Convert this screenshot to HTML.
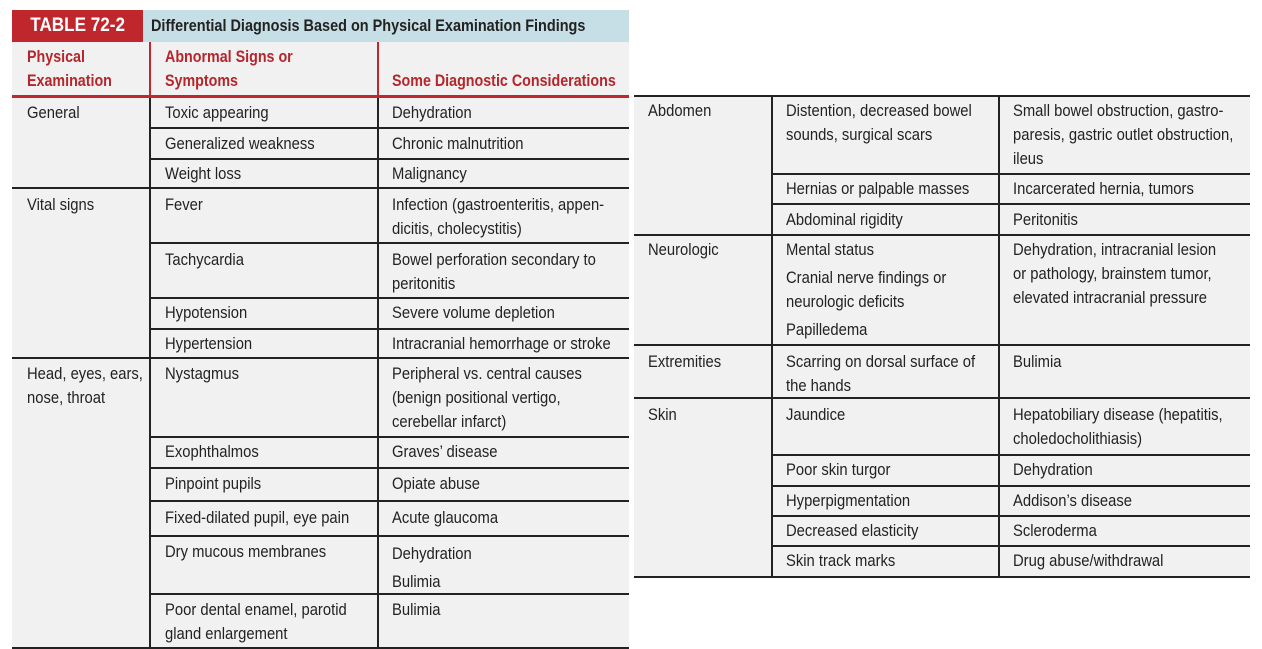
<!DOCTYPE html>
<html><head><meta charset="utf-8">
<style>
body{margin:0;width:1262px;height:649px;background:#fff;position:relative;overflow:hidden;font-family:"Liberation Sans",sans-serif;}
.bg{position:absolute;background:#f1f1f1;}
.h{position:absolute;height:2px;background:#222;}
.v{position:absolute;width:2px;background:#222;}
.t{position:absolute;font-size:17px;line-height:24px;color:#222;white-space:nowrap;transform:scaleX(0.87);transform-origin:0 0;}
.r{color:#b5262b;font-weight:bold;transform:scaleX(0.84);}
</style></head><body>
<div class="bg" style="left:12px;top:42px;width:617px;height:606px"></div>
<div class="bg" style="left:634px;top:96px;width:616px;height:481px"></div>
<div style="position:absolute;left:12px;top:10px;width:131px;height:32px;background:#c0272d;color:#fff;font-weight:bold;font-size:19px;line-height:32px;text-align:center;white-space:nowrap"><span style="display:inline-block;transform:scaleX(0.9)">TABLE 72-2</span></div>
<div style="position:absolute;left:143px;top:10px;width:486px;height:32px;background:#c6dfe6;color:#222;font-weight:bold;font-size:17px;line-height:32px;white-space:nowrap;overflow:hidden"><span style="position:absolute;left:8px;top:0;transform:scaleX(0.85);transform-origin:0 0">Differential Diagnosis Based on Physical Examination Findings</span></div>
<div class="t r" style="left:27px;top:45px">Physical<br>Examination</div>
<div class="t r" style="left:165px;top:45px">Abnormal Signs or<br>Symptoms</div>
<div class="t r" style="left:392px;top:69px">Some Diagnostic Considerations</div>
<div style="position:absolute;left:12px;top:95px;width:617px;height:3px;background:#c0272d"></div>
<div style="position:absolute;left:149px;top:42px;width:2px;height:54px;background:#c0272d"></div>
<div style="position:absolute;left:377px;top:42px;width:2px;height:54px;background:#c0272d"></div>
<div class="v" style="left:149px;top:98px;height:550px"></div>
<div class="v" style="left:377px;top:98px;height:550px"></div>
<div class="h" style="left:150px;top:127px;width:479px"></div>
<div class="h" style="left:150px;top:158px;width:479px"></div>
<div class="h" style="left:12px;top:187px;width:617px"></div>
<div class="h" style="left:150px;top:242px;width:479px"></div>
<div class="h" style="left:150px;top:297px;width:479px"></div>
<div class="h" style="left:150px;top:328px;width:479px"></div>
<div class="h" style="left:12px;top:357px;width:617px"></div>
<div class="h" style="left:150px;top:436px;width:479px"></div>
<div class="h" style="left:150px;top:467px;width:479px"></div>
<div class="h" style="left:150px;top:500px;width:479px"></div>
<div class="h" style="left:150px;top:535px;width:479px"></div>
<div class="h" style="left:150px;top:593px;width:479px"></div>
<div class="h" style="left:12px;top:647px;width:617px"></div>
<div class="t" style="left:27px;top:101px">General</div>
<div class="t" style="left:165px;top:101px">Toxic appearing</div>
<div class="t" style="left:392px;top:101px">Dehydration</div>
<div class="t" style="left:165px;top:132px">Generalized weakness</div>
<div class="t" style="left:392px;top:132px">Chronic malnutrition</div>
<div class="t" style="left:165px;top:162px">Weight loss</div>
<div class="t" style="left:392px;top:162px">Malignancy</div>
<div class="t" style="left:27px;top:193px">Vital signs</div>
<div class="t" style="left:165px;top:193px">Fever</div>
<div class="t" style="left:392px;top:193px">Infection (gastroenteritis, appen-<br>dicitis, cholecystitis)</div>
<div class="t" style="left:165px;top:248px">Tachycardia</div>
<div class="t" style="left:392px;top:248px">Bowel perforation secondary to<br>peritonitis</div>
<div class="t" style="left:165px;top:301px">Hypotension</div>
<div class="t" style="left:392px;top:301px">Severe volume depletion</div>
<div class="t" style="left:165px;top:332px">Hypertension</div>
<div class="t" style="left:392px;top:332px">Intracranial hemorrhage or stroke</div>
<div class="t" style="left:27px;top:362px">Head, eyes, ears,<br>nose, throat</div>
<div class="t" style="left:165px;top:362px">Nystagmus</div>
<div class="t" style="left:392px;top:362px">Peripheral vs. central causes<br>(benign positional vertigo,<br>cerebellar infarct)</div>
<div class="t" style="left:165px;top:440px">Exophthalmos</div>
<div class="t" style="left:392px;top:440px">Graves’ disease</div>
<div class="t" style="left:165px;top:472px">Pinpoint pupils</div>
<div class="t" style="left:392px;top:472px">Opiate abuse</div>
<div class="t" style="left:165px;top:506px">Fixed-dilated pupil, eye pain</div>
<div class="t" style="left:392px;top:506px">Acute glaucoma</div>
<div class="t" style="left:165px;top:540px">Dry mucous membranes</div>
<div class="t" style="left:392px;top:540px;line-height:28px">Dehydration<br>Bulimia</div>
<div class="t" style="left:165px;top:598px">Poor dental enamel, parotid<br>gland enlargement</div>
<div class="t" style="left:392px;top:598px">Bulimia</div>
<div class="h" style="left:634px;top:95px;width:616px"></div>
<div class="v" style="left:771px;top:96px;height:481px"></div>
<div class="v" style="left:998px;top:96px;height:481px"></div>
<div class="h" style="left:772px;top:173px;width:478px"></div>
<div class="h" style="left:772px;top:203px;width:478px"></div>
<div class="h" style="left:634px;top:234px;width:616px"></div>
<div class="h" style="left:634px;top:344px;width:616px"></div>
<div class="h" style="left:634px;top:397px;width:616px"></div>
<div class="h" style="left:772px;top:454px;width:478px"></div>
<div class="h" style="left:772px;top:485px;width:478px"></div>
<div class="h" style="left:772px;top:515px;width:478px"></div>
<div class="h" style="left:772px;top:545px;width:478px"></div>
<div class="h" style="left:634px;top:576px;width:616px"></div>
<div class="t" style="left:648px;top:99px">Abdomen</div>
<div class="t" style="left:786px;top:99px">Distention, decreased bowel<br>sounds, surgical scars</div>
<div class="t" style="left:1013px;top:99px">Small bowel obstruction, gastro-<br>paresis, gastric outlet obstruction,<br>ileus</div>
<div class="t" style="left:786px;top:177px">Hernias or palpable masses</div>
<div class="t" style="left:1013px;top:177px">Incarcerated hernia, tumors</div>
<div class="t" style="left:786px;top:208px">Abdominal rigidity</div>
<div class="t" style="left:1013px;top:208px">Peritonitis</div>
<div class="t" style="left:648px;top:238px">Neurologic</div>
<div class="t" style="left:786px;top:238px">Mental status</div>
<div class="t" style="left:786px;top:266px">Cranial nerve findings or<br>neurologic deficits</div>
<div class="t" style="left:786px;top:318px">Papilledema</div>
<div class="t" style="left:1013px;top:238px">Dehydration, intracranial lesion<br>or pathology, brainstem tumor,<br>elevated intracranial pressure</div>
<div class="t" style="left:648px;top:350px">Extremities</div>
<div class="t" style="left:786px;top:350px">Scarring on dorsal surface of<br>the hands</div>
<div class="t" style="left:1013px;top:350px">Bulimia</div>
<div class="t" style="left:648px;top:403px">Skin</div>
<div class="t" style="left:786px;top:403px">Jaundice</div>
<div class="t" style="left:1013px;top:403px">Hepatobiliary disease (hepatitis,<br>choledocholithiasis)</div>
<div class="t" style="left:786px;top:458px">Poor skin turgor</div>
<div class="t" style="left:1013px;top:458px">Dehydration</div>
<div class="t" style="left:786px;top:489px">Hyperpigmentation</div>
<div class="t" style="left:1013px;top:489px">Addison’s disease</div>
<div class="t" style="left:786px;top:519px">Decreased elasticity</div>
<div class="t" style="left:1013px;top:519px">Scleroderma</div>
<div class="t" style="left:786px;top:549px">Skin track marks</div>
<div class="t" style="left:1013px;top:549px">Drug abuse/withdrawal</div>
</body></html>
